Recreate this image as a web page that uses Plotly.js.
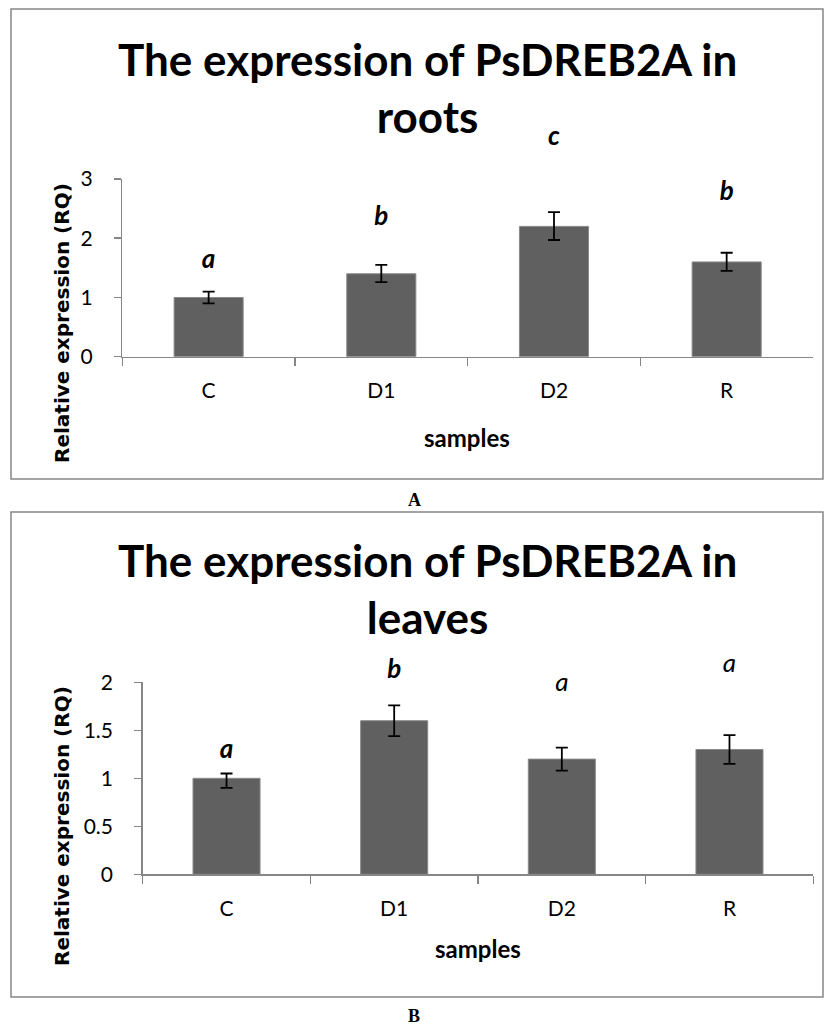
<!DOCTYPE html>
<html><head><meta charset="utf-8">
<script src="https://cdn.plot.ly/plotly-3.0.1.min.js"></script>
<style>html,body{margin:0;padding:0;background:#fff}#chart{width:829px;height:1025px}</style>
</head><body><div id="chart"></div>
<script>
// ---- data ----
const samples = ['C', 'D1', 'D2', 'R'];

const rootsRQ = [1.0, 1.4, 2.2, 1.6];
const rootsErrUp = [0.1, 0.15, 0.24, 0.155];
const rootsErrDown = [0.1, 0.14, 0.23, 0.15];
const rootsLetters = ['a', 'b', 'c', 'b'];
const rootsLetterY = [1.6, 2.34, 3.68, 2.75];
const rootsTicks = [0, 1, 2, 3];

const leavesRQ = [1.0, 1.6, 1.2, 1.3];
const leavesErrUp = [0.05, 0.16, 0.12, 0.15];
const leavesErrDown = [0.1, 0.16, 0.12, 0.15];
const leavesLetters = ['a', 'b', 'a', 'a'];
const leavesLetterY = [1.28, 2.11, 1.98, 2.18];
const leavesTicks = [0, 0.5, 1, 1.5, 2];

const titleRoots = 'The expression of PsDREB2A in<br>roots';
const titleLeaves = 'The expression of PsDREB2A in<br>leaves';
const yTitle = 'Relative expression (RQ)';
const xTitle = 'samples';

// ---- layout helpers ----
const W = 829, H = 1025;
const px = x => x / W;
const py = y => 1 - y / H;
const FONT = 'Lato, "Open Sans", sans-serif';
const AXC = '#868686';
const BAR = '#606060';

function barTrace(vals, up, down, xa, ya) {
  return {
    type: 'bar', x: samples, y: vals, xaxis: xa, yaxis: ya, width: 0.4,
    marker: {color: BAR, line: {color: '#8a8a8a', width: 1}},
    error_y: {type: 'data', symmetric: false, array: up, arrayminus: down,
              color: '#000', thickness: 1.8, width: 6},
    hoverinfo: 'skip', showlegend: false
  };
}

// significance letters as text traces on a hidden y axis that has the same scale
// as the visible one but extends higher, so letters above the visible range still show
function letterTrace(letters, ys, weights, wanted, xa, ya) {
  const idx = samples.map((s, i) => i).filter(i => weights[i] === wanted);
  return {
    type: 'scatter', mode: 'text', xaxis: xa, yaxis: ya, cliponaxis: false,
    x: idx.map(i => samples[i]), y: idx.map(i => ys[i]), text: idx.map(i => letters[i]),
    textposition: 'middle center',
    textfont: {family: FONT, size: 26, color: '#000', style: 'italic', weight: wanted},
    hoverinfo: 'skip', showlegend: false
  };
}

function xAxis(domain) {
  return {
    domain: domain, type: 'category', range: [-0.5, 3.5],
    showline: true, linecolor: AXC, linewidth: 1.5,
    ticks: 'outside', tickson: 'boundaries', ticklen: 8, tickcolor: AXC, tickwidth: 1.5,
    tickfont: {family: FONT, size: 21, color: '#000'}, ticklabelstandoff: 15,
    showgrid: false, zeroline: false, fixedrange: true
  };
}
function yAxis(domain, range, ticks) {
  return {
    domain: domain, range: range, tickmode: 'array', tickvals: ticks,
    showline: true, linecolor: AXC, linewidth: 1.5,
    ticks: 'outside', ticklen: 7, tickcolor: AXC, tickwidth: 1.5,
    tickfont: {family: FONT, size: 21, color: '#000'}, ticklabelstandoff: 17,
    showgrid: false, zeroline: false, fixedrange: true
  };
}
// hidden axis: same pixel scale as the visible axis (bottom at y0, value `top` at y1), extended up to yExt
function hiddenAxis(y0, y1, top, yExt, anchor) {
  return {
    domain: [py(y0), py(yExt)], range: [0, top * (y0 - yExt) / (y0 - y1)],
    visible: false, showgrid: false, zeroline: false, fixedrange: true, anchor: anchor
  };
}

const annotations = [];
function addText(text, x, y, size, opts) {
  annotations.push(Object.assign({
    xref: 'paper', yref: 'paper', x: px(x), y: py(y), text: text, showarrow: false,
    xanchor: 'center', yanchor: 'middle',
    font: {family: FONT, size: size, color: '#000', weight: 'bold'}
  }, opts || {}));
}

const YFONT = {family: '"DejaVu Sans", Verdana, sans-serif', size: 20, color: '#000', weight: 'bold'};
const PFONT = {family: '"Liberation Serif", "Times New Roman", serif', size: 18, color: '#000', weight: 'bold'};

// titles
addText(titleRoots, 427, 88, 44);
addText(titleLeaves, 427, 588, 44);
// axis titles
addText(yTitle, 62, 323, 20, {textangle: -90, font: YFONT});
addText(yTitle, 62, 826, 20, {textangle: -90, font: YFONT});
addText(xTitle, 467, 438, 24);
addText(xTitle, 478, 948, 24);
// panel labels
addText('A', 414, 500, 18, {font: PFONT});
addText('B', 414, 1016, 18, {font: PFONT});

const rootsLetterWeight = ['bold', 'bold', 'bold', 'bold'];
const leavesLetterWeight = ['bold', 'bold', 'normal', 'normal'];

const shapes = [
  {type: 'rect', xref: 'paper', yref: 'paper', x0: px(11), x1: px(823), y0: py(9), y1: py(479),
   line: {color: AXC, width: 1.5}},
  {type: 'rect', xref: 'paper', yref: 'paper', x0: px(11), x1: px(823), y0: py(512), y1: py(997),
   line: {color: AXC, width: 1.5}}
];

const data = [
  barTrace(rootsRQ, rootsErrUp, rootsErrDown, 'x', 'y'),
  barTrace(leavesRQ, leavesErrUp, leavesErrDown, 'x2', 'y2'),
  letterTrace(rootsLetters, rootsLetterY, rootsLetterWeight, 'bold', 'x', 'y3'),
  letterTrace(leavesLetters, leavesLetterY, leavesLetterWeight, 'bold', 'x2', 'y4'),
  letterTrace(leavesLetters, leavesLetterY, leavesLetterWeight, 'normal', 'x2', 'y4')
];

const layout = {
  width: W, height: H, margin: {l: 0, r: 0, t: 0, b: 0},
  paper_bgcolor: '#fff', plot_bgcolor: 'rgba(0,0,0,0)',
  font: {family: FONT, color: '#000'},
  xaxis: Object.assign(xAxis([px(122.3), px(813)]), {anchor: 'y'}),
  yaxis: Object.assign(yAxis([py(356.7), py(179)], [0, 3], rootsTicks), {anchor: 'x'}),
  xaxis2: Object.assign(xAxis([px(142.7), px(813.3)]), {anchor: 'y2'}),
  yaxis2: Object.assign(yAxis([py(874.3), py(682.3)], [0, 2], leavesTicks), {anchor: 'x2'}),
  yaxis3: hiddenAxis(356.7, 179, 3, 110, 'x'),
  yaxis4: hiddenAxis(874.3, 682.3, 2, 640, 'x2'),
  annotations: annotations, shapes: shapes, showlegend: false
};

Plotly.newPlot('chart', data, layout, {staticPlot: true, displayModeBar: false});
</script>
</body></html>
